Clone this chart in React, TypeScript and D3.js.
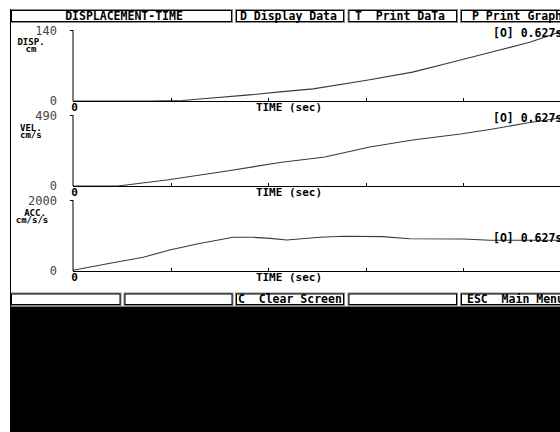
import React from 'react';
import * as d3 from 'd3';

// ---- data ----
const timeDomain = [0, 0.5];
const timeTicks = [0.1, 0.2, 0.3, 0.4, 0.5];

const dispTime = [0, 0.079, 0.112, 0.13, 0.181, 0.212, 0.246, 0.301, 0.348, 0.389, 0.43, 0.468, 0.5];
const dispValue = [0, 0, 1, 4, 12, 18, 24, 41, 57, 77, 97, 116, 137];

const velTime = [0, 0.026, 0.046, 0.096, 0.158, 0.212, 0.258, 0.304, 0.348, 0.397, 0.43, 0.465, 0.5];
const velValue = [0, 0, 0, 41, 104, 162, 200, 269, 317, 359, 393, 435, 470];

const accTime = [0, 0.007, 0.038, 0.072, 0.099, 0.127, 0.164, 0.184, 0.202, 0.219, 0.253, 0.277, 0.317, 0.345, 0.4, 0.427, 0.5];
const accValue = [20, 56, 217, 386, 592, 761, 949, 949, 920, 873, 949, 977, 967, 910, 901, 865, 865];

const panelNames = ['DISP.', 'VEL.', 'ACC.'];
const panelUnits = ['cm', 'cm/s', 'cm/s/s'];
const panelMax = [140, 490, 2000];
const cursorLabel = '[O] 0.627s';
const headerLabels = ['DISPLACEMENT-TIME', 'D Display Data', 'T  Print DaTa', 'P Print Graph'];
const footerLabels = ['', '', 'C  Clear Screen', '', 'ESC  Main Menu'];

const W = 560;
const H = 432;
const MONO = "'DejaVu Sans Mono', 'Liberation Mono', monospace";

function Box({ x, y, w, h, label, tx, anchor }: any) {
  return (
    <g>
      <rect x={x} y={y} width={w} height={h} fill="#8c8c8c" />
      <rect x={x + 1.5} y={y + 1.5} width={w - 3} height={h - 3} fill="#fff" stroke="#000" strokeWidth={1} />
      {label ? (
        <text x={tx} y={y + h / 2 + 4} fontFamily={MONO} fontWeight="bold" fontSize={11.5} textAnchor={anchor || 'start'} fill="#000">
          {label.replace(/ /g, '\u00a0')}
        </text>
      ) : null}
    </g>
  );
}

export default function App() {
  const x = d3.scaleLinear().domain(timeDomain).range([73, 561]);
  const tops = [30, 115, 200];
  const bottoms = [101, 186, 271];
  const series = [
    { t: dispTime, v: dispValue },
    { t: velTime, v: velValue },
    { t: accTime, v: accValue },
  ];
  const cursorY = [33, 118, 238];
  const nameLayout = [
    { nx: 31, ny: 45, ux: 31, uy: 52, anchor: 'middle' },
    { nx: 20, ny: 130.5, ux: 20, uy: 138, anchor: 'start' },
    { nx: 35, ny: 215.5, ux: 32, uy: 223, anchor: 'middle' },
  ];

  const headerBoxes = [
    { x: 10, w: 223, tx: 124, anchor: 'middle' },
    { x: 235, w: 110, tx: 240, anchor: 'start' },
    { x: 347.5, w: 110.5, tx: 355, anchor: 'start' },
    { x: 460, w: 110, tx: 472, anchor: 'start' },
  ];
  const footerBoxes = [
    { x: 10, w: 111.5, tx: 0 },
    { x: 123.5, w: 110, tx: 0 },
    { x: 235, w: 110, tx: 238 },
    { x: 347.5, w: 110.5, tx: 0 },
    { x: 460, w: 110, tx: 467 },
  ];

  return (
    <svg width={W} height={H} style={{ position: 'absolute', left: 0, top: 0, background: '#fff' }}>
      <rect x={0} y={0} width={W} height={H} fill="#fff" />
      {headerBoxes.map((b, i) => (
        <Box key={'h' + i} x={b.x} y={9} w={b.w} h={14} label={headerLabels[i]} tx={b.tx} anchor={b.anchor} />
      ))}
      {series.map((s, i) => {
        const y = d3.scaleLinear().domain([0, panelMax[i]]).range([bottoms[i], tops[i]]);
        const pts = s.t.map((t, k) => [t, s.v[k]] as [number, number]);
        const line = d3
          .line<[number, number]>()
          .x((d) => x(d[0]))
          .y((d) => y(d[1]));
        const nl = nameLayout[i];
        return (
          <g key={'p' + i}>
            <path d={line(pts) || ''} fill="none" stroke="#3a3a3a" strokeWidth={1.1} />
            <line x1={x(0)} x2={x(0)} y1={y(panelMax[i])} y2={y(0)} stroke="#000" strokeWidth={1} />
            <line x1={x(0) - 3} x2={x(0)} y1={y(panelMax[i]) + 0.5} y2={y(panelMax[i]) + 0.5} stroke="#000" strokeWidth={1} />
            <line x1={x(0)} x2={W} y1={y(0) + 0.5} y2={y(0) + 0.5} stroke="#000" strokeWidth={1} />
            {timeTicks.map((t) => (
              <line key={t} x1={Math.round(x(t)) + 0.5} x2={Math.round(x(t)) + 0.5} y1={y(0)} y2={y(0) - 3} stroke="#000" strokeWidth={1} />
            ))}
            <text x={57} y={y(panelMax[i]) + 4.5} fontFamily={MONO} fontSize={12} textAnchor="end" fill="#444">
              {String(panelMax[i])}
            </text>
            <text x={57} y={y(0) + 4} fontFamily={MONO} fontSize={12} textAnchor="end" fill="#444">
              0
            </text>
            <text x={x(0) + 1.5} y={y(0) + 10} fontFamily={MONO} fontWeight="bold" fontSize={11} textAnchor="middle" fill="#000">
              0
            </text>
            <text x={289} y={y(0) + 9.5} fontFamily={MONO} fontWeight="bold" fontSize={11} textAnchor="middle" fill="#000">
              TIME (sec)
            </text>
            <text x={nl.nx} y={nl.ny} fontFamily={MONO} fontWeight="bold" fontSize={9} textAnchor={nl.anchor} fill="#000">
              {panelNames[i]}
            </text>
            <text x={nl.ux} y={nl.uy} fontFamily={MONO} fontWeight="bold" fontSize={9} textAnchor={nl.anchor} fill="#000">
              {panelUnits[i]}
            </text>
            <text x={493} y={cursorY[i] + 3.5} fontFamily={MONO} fontWeight="bold" fontSize={11.5} fill="#000">
              {cursorLabel}
            </text>
          </g>
        );
      })}
      {footerBoxes.map((b, i) => (
        <Box key={'f' + i} x={b.x} y={292.5} w={b.w} h={13.5} label={footerLabels[i]} tx={b.tx} />
      ))}
      <line x1={10.5} x2={10.5} y1={9} y2={307} stroke="#000" strokeWidth={1} />
      <rect x={10} y={306.5} width={W - 10} height={H - 306.5} fill="#000" />
    </svg>
  );
}
